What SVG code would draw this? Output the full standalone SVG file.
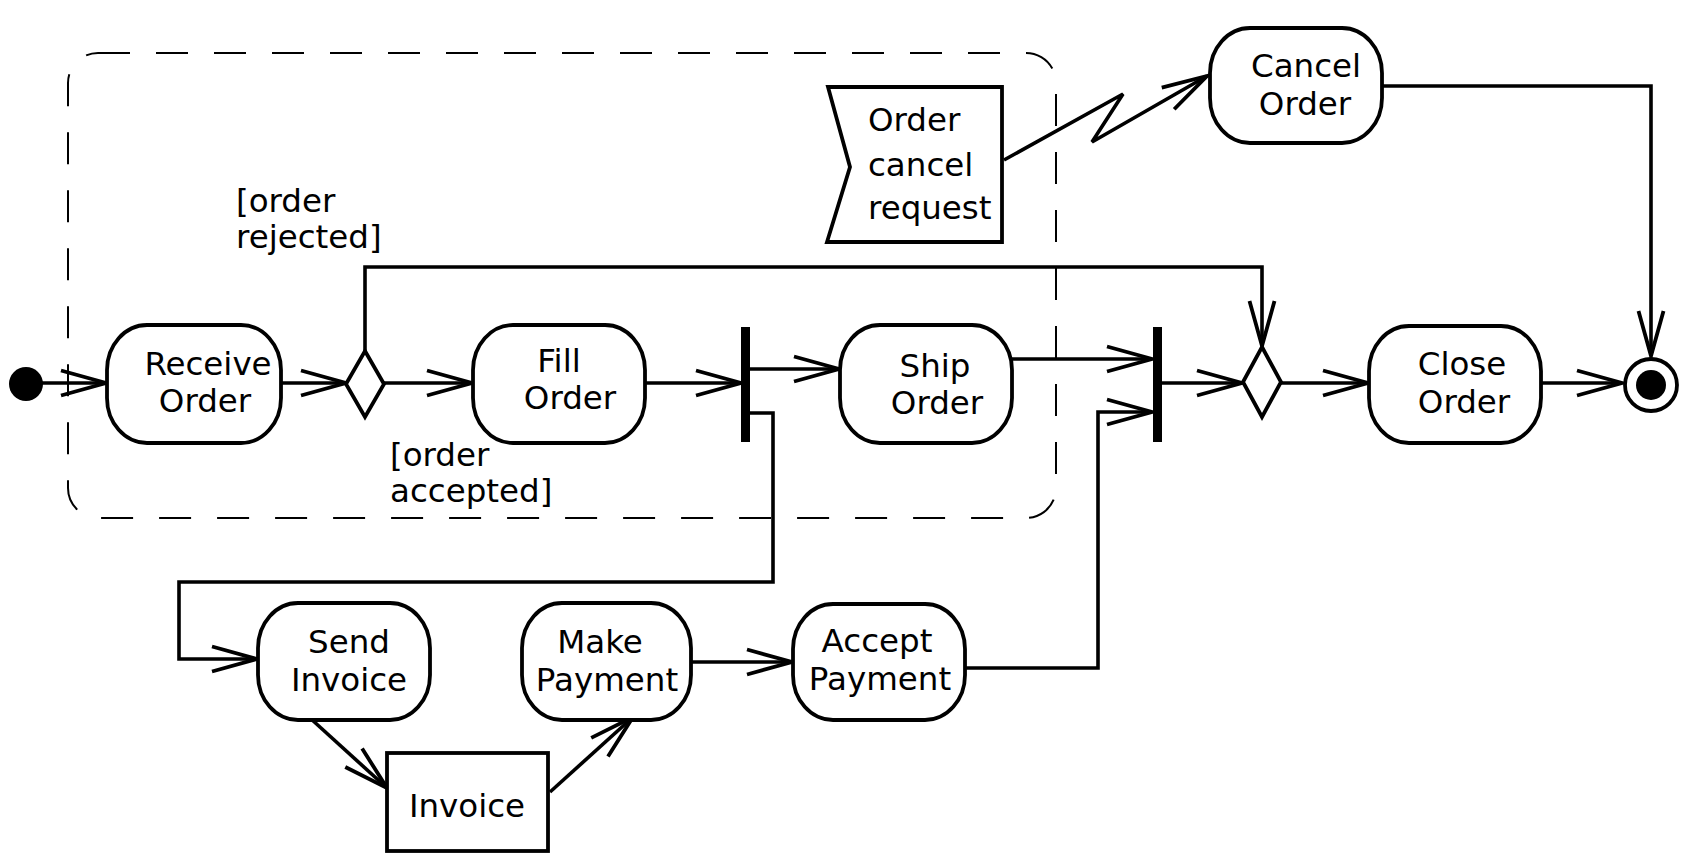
<svg xmlns="http://www.w3.org/2000/svg" width="1684" height="860" viewBox="0 0 1684 860">
<defs>
<style>
.act{fill:#fff;stroke:#000;stroke-width:3.8}
.t{font-family:"DejaVu Sans","Liberation Sans",sans-serif;font-size:32.5px;fill:#000}
.c{text-anchor:middle}
.e{fill:none;stroke:#000;stroke-width:3.6;stroke-linejoin:miter}
.bar{fill:#000}
</style>
<marker id="ah" markerUnits="userSpaceOnUse" markerWidth="60" markerHeight="40" viewBox="-50 -20 60 40" refX="0" refY="0" orient="auto" overflow="visible">
<path d="M-45,-12.5 L0,0 L-45,12.5" fill="none" stroke="#000" stroke-width="3.8"/>
</marker>
</defs>
<rect width="1684" height="860" fill="#fff"/>
<g id="region">
<rect x="68" y="53" width="988" height="465" rx="30" ry="30" fill="none" stroke="#000" stroke-width="2" stroke-dasharray="32 26"/>
</g>
<g id="connectors">
<path class="e" d="M26,383 L106,383" marker-end="url(#ah)"/>
<path class="e" d="M281,383 L346,383" marker-end="url(#ah)"/>
<path class="e" d="M383,383 L472,383" marker-end="url(#ah)"/>
<path class="e" d="M645,383 L741,383" marker-end="url(#ah)"/>
<path class="e" d="M750,369 L839,369" marker-end="url(#ah)"/>
<path class="e" d="M750,413 L773,413 L773,582 L179,582 L179,659 L257,659" marker-end="url(#ah)"/>
<path class="e" d="M1012,359 L1152,359" marker-end="url(#ah)"/>
<path class="e" d="M965,668 L1098,668 L1098,412 L1152,412" marker-end="url(#ah)"/>
<path class="e" d="M1162,383 L1242,383" marker-end="url(#ah)"/>
<path class="e" d="M365,352 L365,267 L1262,267 L1262,346" marker-end="url(#ah)"/>
<path class="e" d="M1281,383 L1368,383" marker-end="url(#ah)"/>
<path class="e" d="M1541,383 L1622,383" marker-end="url(#ah)"/>
<path class="e" d="M1383,86 L1651,86 L1651,356" marker-end="url(#ah)"/>
<path class="e" d="M1004,160 L1123,94 L1092,142 L1207,76" marker-end="url(#ah)"/>
<path class="e" d="M310,718 L387,788" marker-end="url(#ah)"/>
<path class="e" d="M550,792 L633,717" marker-end="url(#ah)"/>
<path class="e" d="M691,662 L792,662" marker-end="url(#ah)"/>
<text class="t" x="236" y="212">[order</text>
<text class="t" x="236" y="248">rejected]</text>
<text class="t" x="390" y="466">[order</text>
<text class="t" x="390" y="502">accepted]</text>
</g>
<g id="initial"><circle cx="26" cy="384" r="17" fill="#000"/></g>
<g id="receive-order">
<rect class="act" x="107" y="325" width="174" height="118" rx="40" ry="45"/>
<text class="t c" x="208" y="375">Receive</text>
<text class="t c" x="205" y="412">Order</text>
</g>
<g id="decision"><polygon points="365,351 384,384 365,417 346,384" fill="#fff" stroke="#000" stroke-width="3.8"/></g>
<g id="fill-order">
<rect class="act" x="473" y="325" width="172" height="118" rx="40" ry="45"/>
<text class="t c" x="559" y="372">Fill</text>
<text class="t c" x="570" y="409">Order</text>
</g>
<g id="fork"><rect class="bar" x="741" y="327" width="9" height="115"/></g>
<g id="ship-order">
<rect class="act" x="840" y="325" width="172" height="118" rx="40" ry="45"/>
<text class="t c" x="935" y="377">Ship</text>
<text class="t c" x="937" y="414">Order</text>
</g>
<g id="join"><rect class="bar" x="1153" y="327" width="9" height="115"/></g>
<g id="merge"><polygon points="1262,347 1281,382 1262,417 1243,382" fill="#fff" stroke="#000" stroke-width="3.8"/></g>
<g id="close-order">
<rect class="act" x="1369" y="326" width="172" height="117" rx="40" ry="45"/>
<text class="t c" x="1462" y="375">Close</text>
<text class="t c" x="1464" y="413">Order</text>
</g>
<g id="final">
<circle cx="1651" cy="385" r="26" fill="#fff" stroke="#000" stroke-width="3.8"/>
<circle cx="1651" cy="385" r="15" fill="#000"/>
</g>
<g id="order-cancel-request">
<polygon points="828,87 1002,87 1002,242 827,242 850,167" fill="#fff" stroke="#000" stroke-width="3.8"/>
<text class="t" x="868" y="131">Order</text>
<text class="t" x="868" y="176">cancel</text>
<text class="t" x="868" y="219">request</text>
</g>
<g id="cancel-order">
<rect class="act" x="1210" y="28" width="172" height="115" rx="40" ry="45"/>
<text class="t c" x="1306" y="77">Cancel</text>
<text class="t c" x="1305" y="115">Order</text>
</g>
<g id="send-invoice">
<rect class="act" x="258" y="603" width="172" height="117" rx="40" ry="45"/>
<text class="t c" x="349" y="653">Send</text>
<text class="t c" x="349" y="691">Invoice</text>
</g>
<g id="invoice">
<rect x="387" y="753" width="161" height="98" fill="#fff" stroke="#000" stroke-width="3.8"/>
<text class="t c" x="467" y="817">Invoice</text>
</g>
<g id="make-payment">
<rect class="act" x="522" y="603" width="169" height="117" rx="40" ry="45"/>
<text class="t c" x="600" y="653">Make</text>
<text class="t c" x="607" y="691">Payment</text>
</g>
<g id="accept-payment">
<rect class="act" x="793" y="604" width="172" height="116" rx="40" ry="45"/>
<text class="t c" x="877" y="652">Accept</text>
<text class="t c" x="880" y="690">Payment</text>
</g>
</svg>
